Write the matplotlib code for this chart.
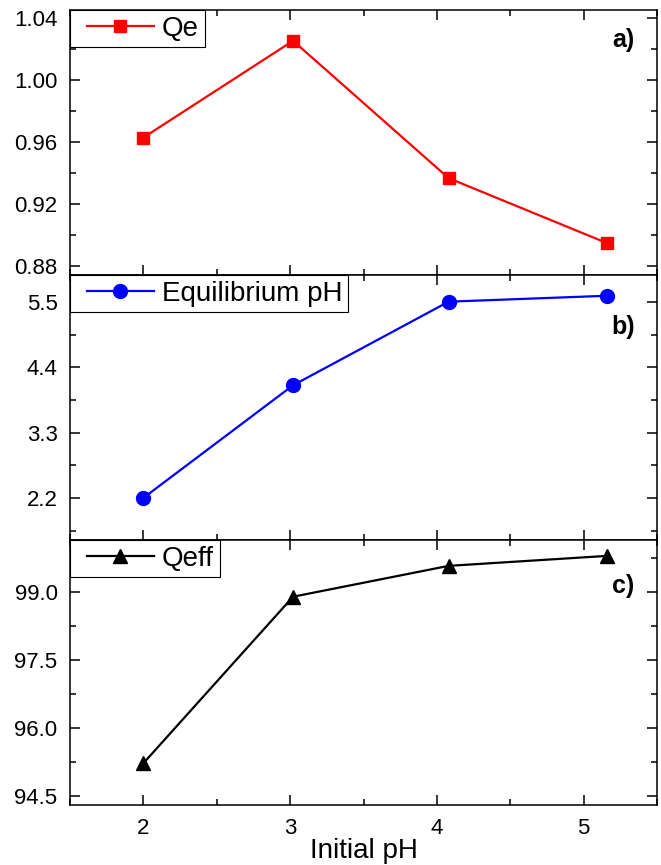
import numpy as np
import matplotlib
matplotlib.use('Agg')
import matplotlib.pyplot as plt
from matplotlib.ticker import MultipleLocator, FormatStrFormatter
from matplotlib.legend_handler import HandlerLine2D

plt.rcParams['font.family'] = ['Liberation Sans', 'DejaVu Sans']

# data
initial_ph = [2.0, 3.02, 4.08, 5.16]
qe = [0.9628, 1.0254, 0.9366, 0.8946]
eq_ph = [2.2, 4.10, 5.51, 5.61]
qeff = [95.22, 98.89, 99.57, 99.79]

series = [
    (qe, 'Qe', 'red', 's', 9, 'a)', (0.874, 1.0453), 0.04, 0.02, '%.2f', 0.887),
    (eq_ph, 'Equilibrium pH', 'blue', 'o', 10, 'b)', (1.49, 5.96), 1.1, 0.55, '%.1f', 0.804),
    (qeff, 'Qeff', 'black', '^', 10, 'c)', (94.30, 100.14), 1.5, 0.75, '%.1f', 0.825),
]


# legend handle that leaves some room before the line, like Origin does
class PadHandler(HandlerLine2D):
    def create_artists(self, legend, orig_handle, xdescent, ydescent,
                       width, height, fontsize, trans):
        pad = 0.41 * fontsize
        return super().create_artists(legend, orig_handle, xdescent - pad, ydescent,
                                      width - pad, height, fontsize, trans)


fig = plt.figure(figsize=(6.61, 8.65), dpi=100)
left, right = 70 / 661, 657 / 661
top, bottom = 1 - 10 / 865, 1 - 805 / 865
h = (top - bottom) / 3

axes = []
for i, (y, lab, col, mk, ms, tag, ylim, maj, mnr, fmt, tagy) in enumerate(series):
    ax = fig.add_axes([left, top - (i + 1) * h, right - left, h])
    line, = ax.plot(initial_ph, y, color=col, marker=mk, ms=ms, lw=1.6, label=lab)
    ax.set_xlim(1.5, 5.5)
    ax.set_ylim(*ylim)
    ax.xaxis.set_major_locator(MultipleLocator(1))
    ax.xaxis.set_minor_locator(MultipleLocator(0.5))
    ax.yaxis.set_major_locator(MultipleLocator(maj))
    ax.yaxis.set_minor_locator(MultipleLocator(mnr))
    ax.yaxis.set_major_formatter(FormatStrFormatter(fmt))
    ax.tick_params(which='both', direction='in', top=True, right=True,
                   width=1.1, labelsize=16, pad=9)
    ax.tick_params(which='major', length=7.5)
    ax.tick_params(which='minor', length=4.3)
    for s in ax.spines.values():
        s.set_linewidth(1.1)
    if i < 2:
        ax.tick_params(labelbottom=False)
    leg = ax.legend(loc='upper left', fontsize=20, borderaxespad=0, borderpad=0.2,
                    handlelength=2.4 + 0.41, handletextpad=0.3, fancybox=False,
                    framealpha=1, edgecolor='black',
                    handler_map={line: PadHandler()})
    leg.get_frame().set_linewidth(0.8)
    ax.text(0.942, tagy, tag, transform=ax.transAxes, fontsize=18,
            fontweight='bold', ha='center', va='center')
    axes.append(ax)

axes[-1].set_xlabel('Initial pH', fontsize=20, labelpad=0)

plt.savefig('out.png', dpi=100)
